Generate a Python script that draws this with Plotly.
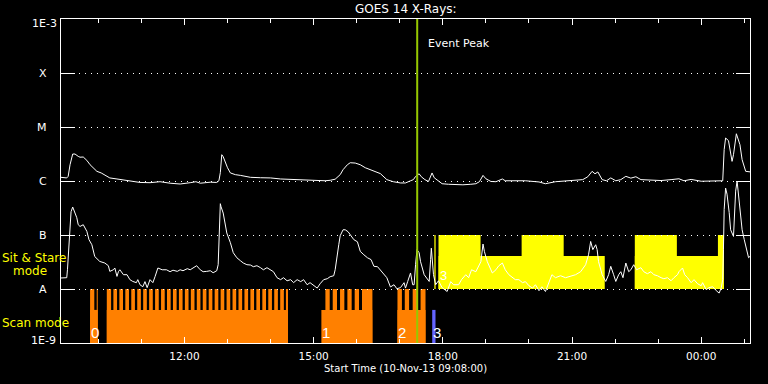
import pandas as pd
import numpy as np
import plotly.graph_objects as go

START = pd.Timestamp("2013-11-10 09:08:00")

# ---------------- data (minutes after start, flux W/m^2) ----------------
long_min = [0, 8, 10, 12.6, 16.3, 19.5, 24, 26.5, 31, 36, 40.5, 45, 50, 56, 64, 68, 78, 92, 100, 110,
            124, 138, 152, 166, 180, 188, 194, 201, 208, 217, 220, 222, 224, 226, 229, 232, 236, 243,
            250, 264, 278, 292, 306, 324, 340, 354, 368, 375, 382, 389, 393, 399, 403, 410, 417, 424,
            431, 438, 445, 454, 463, 473, 480, 487, 491, 494, 499, 502, 507, 512, 517, 520, 525, 531,
            540, 550, 560, 571, 578, 583, 588, 592, 599, 606, 615, 619, 633, 647, 666, 675, 689, 703,
            717, 727, 734, 740, 744, 748, 754, 760, 766, 773, 780, 787, 794, 801, 808, 822, 836, 850,
            861, 868, 878, 892, 906, 920, 922, 924, 926, 930, 932, 935, 937, 941, 946, 949, 954, 961]
long_flux = [1.17e-6, 1.14e-6, 1.22e-6, 2.0e-6, 3.16e-6, 3.16e-6, 2.86e-6, 2.76e-6, 2.78e-6, 2.41e-6,
             2.0e-6, 1.74e-6, 1.51e-6, 1.41e-6, 1.25e-6, 1.14e-6, 1.09e-6, 1.03e-6, 1.0e-6, 0.94e-6,
             0.93e-6, 0.97e-6, 0.91e-6, 0.88e-6, 0.93e-6, 0.97e-6, 0.91e-6, 0.93e-6, 0.95e-6, 0.94e-6,
             1.01e-6, 1.43e-6, 3.07e-6, 2.82e-6, 2.18e-6, 1.76e-6, 1.41e-6, 1.31e-6,
             1.27e-6, 1.17e-6, 1.15e-6, 1.14e-6, 1.09e-6, 1.06e-6, 1.03e-6, 1.0e-6, 1.01e-6, 1.03e-6,
             1.08e-6, 1.31e-6, 1.62e-6, 2.0e-6, 2.18e-6, 2.15e-6, 2.0e-6, 1.76e-6,
             1.62e-6, 1.49e-6, 1.37e-6, 1.06e-6, 0.97e-6, 0.92e-6, 0.92e-6, 1.01e-6, 1.06e-6, 1.21e-6,
             1.36e-6, 1.2e-6, 1.06e-6, 0.98e-6, 1.41e-6, 1.15e-6, 1.01e-6, 0.89e-6,
             0.87e-6, 0.85e-6, 0.85e-6, 0.87e-6, 0.89e-6, 0.97e-6, 1.27e-6, 1.1e-6, 0.98e-6, 0.97e-6,
             1.09e-6, 1.01e-6, 1.01e-6, 1.01e-6, 0.96e-6, 0.89e-6, 0.97e-6, 1.0e-6,
             1.01e-6, 1.06e-6, 1.2e-6, 1.51e-6, 1.36e-6, 1.47e-6, 1.06e-6, 1.01e-6, 1.14e-6, 1.01e-6,
             1.06e-6, 1.22e-6, 1.13e-6, 1.2e-6, 1.06e-6, 1.03e-6, 1.02e-6, 1.06e-6,
             1.1e-6, 1.01e-6, 1.07e-6, 0.99e-6, 1.0e-6, 0.98e-6, 1.01e-6, 3.8e-6, 6.25e-6, 5.6e-6,
             3.8e-6, 2.31e-6, 3.07e-6, 7.5e-6, 4.7e-6, 2.48e-6, 1.51e-6, 1.47e-6]

short_min = [0, 8, 9, 10, 12.6, 14, 16.3, 18, 22, 24, 26.5, 31, 36, 39, 43, 47, 54, 61, 66, 68, 73, 75,
             78, 80, 82, 87, 92, 96, 100, 105, 107, 110, 114, 117, 120, 124, 128, 131, 135, 141, 147,
             152, 156, 162, 166, 170, 176, 180, 184, 189, 194, 198, 203, 208, 212, 217, 219, 221, 222,
             223, 226, 231, 236, 240, 245, 250, 254, 259, 264, 268, 273, 278, 282, 287, 292, 296, 301,
             306, 310, 315, 320, 324, 329, 334, 338, 343, 347, 352, 357, 361, 366, 371, 375, 380, 382,
             387, 389, 393, 396, 400, 403, 408, 413, 417, 422, 427, 432, 436, 441, 445, 450, 454, 459,
             464, 468, 473, 478, 480, 483, 487, 490, 492, 494, 496, 499, 501, 506, 513, 515, 516, 519,
             522, 526, 531, 538, 543, 547, 554, 558, 564, 568, 572, 578, 582, 585, 588, 590, 594, 601,
             606, 610, 615, 619, 624, 629, 633, 638, 643, 647, 652, 657, 661, 666, 670, 675, 680, 684,
             689, 696, 703, 710, 717, 724, 728, 731, 735, 738, 741, 743, 745, 747, 749, 754, 759, 763,
             766, 770, 773, 777, 780, 783, 787, 791, 794, 798, 802, 808, 812, 817, 822, 826, 831, 836,
             840, 845, 850, 854, 859, 861, 866, 869, 873, 878, 882, 887, 892, 894, 899, 903, 908, 913,
             917, 920, 922, 923, 924, 926, 928, 931, 933, 937, 938, 940, 942, 944, 946, 949, 952, 957,
             958, 961]
short_flux = [1.6e-8, 1.62e-8, 2.27e-8, 4.0e-8, 1.69e-7, 2.7e-7, 3.3e-7, 2.9e-7, 2.09e-7, 1.55e-7,
              1.44e-7, 1.55e-7, 1.17e-7, 8.2e-8, 6.6e-8, 4.0e-8, 3.24e-8, 3.03e-8, 2.7e-8, 2.12e-8,
              2.27e-8, 2.45e-8, 1.71e-8, 2.09e-8, 2.27e-8, 1.84e-8, 1.84e-8, 1.49e-8, 1.38e-8, 1.31e-8,
              1.49e-8, 1.2e-8, 1.1e-8, 1.37e-8, 1.06e-8, 1.49e-8, 1.31e-8, 1.69e-8, 2.45e-8, 2.27e-8,
              2.27e-8, 2.09e-8, 2.23e-8, 2.12e-8, 2.27e-8, 2.18e-8, 2.38e-8, 2.27e-8, 2.48e-8, 2.7e-8,
              2.27e-8, 2.09e-8, 2.12e-8, 2.18e-8, 2.0e-8, 2.18e-8, 2.82e-8, 1.25e-7, 3.8e-7, 3.33e-7,
              2.55e-7, 1.09e-7, 7.2e-8, 4.7e-8, 3.79e-8, 3.34e-8, 3.03e-8, 2.82e-8, 2.78e-8, 2.59e-8,
              2.7e-8, 2.48e-8, 2.27e-8, 2.48e-8, 2.27e-8, 2.09e-8, 1.62e-8, 1.49e-8, 1.62e-8, 1.42e-8,
              1.49e-8, 1.31e-8, 1.49e-8, 1.37e-8, 1.49e-8, 1.2e-8, 1.31e-8, 1.15e-8, 1.04e-8, 1.25e-8,
              1.49e-8, 1.55e-8, 1.69e-8, 1.76e-8, 2.27e-8, 6.6e-8, 9.7e-8, 1.25e-7, 1.25e-7, 1.15e-7,
              9.9e-8, 8.2e-8, 7.5e-8, 4.97e-8, 4.3e-8, 3.79e-8, 3.5e-8, 2.63e-8, 2.59e-8, 2.27e-8,
              1.84e-8, 1.62e-8, 1.09e-8, 1.2e-8, 1.01e-8, 1.06e-8, 1.31e-8, 1.04e-8, 1.37e-8, 1.98e-8,
              1.2e-8, 1.2e-8, 2.82e-8, 5.35e-8, 4.7e-8, 3.2e-8, 1.84e-8, 1.38e-8, 3.5e-8, 5.7e-8,
              1.84e-8, 1.2e-8, 1.42e-8, 1.06e-8, 9.0e-9, 1.37e-8, 1.2e-8, 1.2e-8, 1.49e-8, 1.84e-8,
              1.62e-8, 2.27e-8, 2.09e-8, 2.59e-8, 3.2e-8, 6.8e-8, 4.9e-8, 3.2e-8, 1.98e-8, 2.27e-8,
              2.7e-8, 3.03e-8, 2.27e-8, 1.84e-8, 1.62e-8, 1.49e-8, 1.49e-8, 1.31e-8, 1.37e-8, 1.15e-8,
              1.04e-8, 1.2e-8, 9.3e-9, 1.1e-8, 9.0e-9, 1.31e-8, 1.84e-8, 1.62e-8, 1.76e-8, 1.62e-8,
              1.71e-8, 1.84e-8, 2.09e-8, 2.48e-8, 2.82e-8, 4.3e-8, 7.6e-8, 5.35e-8, 6.1e-8, 6.6e-8,
              5.35e-8, 3.2e-8, 1.84e-8, 1.38e-8, 1.84e-8, 2.63e-8, 1.84e-8, 1.38e-8, 1.84e-8, 2.09e-8,
              1.62e-8, 3.03e-8, 2.09e-8, 2.27e-8, 2.82e-8, 2.27e-8, 2.48e-8, 2.09e-8, 1.92e-8, 2.09e-8,
              1.84e-8, 1.76e-8, 1.62e-8, 1.55e-8, 1.62e-8, 1.42e-8, 1.62e-8, 1.84e-8, 2.09e-8, 2.45e-8,
              1.84e-8, 1.62e-8, 1.31e-8, 1.49e-8, 1.25e-8, 1.15e-8, 1.31e-8, 9.7e-9, 1.06e-8, 1.1e-8,
              9.3e-9, 8.4e-9, 1.06e-8, 1.49e-8, 5.35e-8, 2.95e-7, 7.4e-7, 5.7e-7, 2.6e-7, 1.25e-7,
              9.4e-8, 1.9e-7, 6.5e-7, 1.0e-6, 5.7e-7, 2.6e-7, 1.25e-7, 8.2e-8, 4.0e-8, 3.8e-8, 4.15e-8]

# scan-mode rasters: base blocks (minutes) and individual frames (minutes)
scan_blocks = [(40.5, 51.2), (63.8, 316.3), (362.8, 433.9), (468.8, 507.9)]
scan_frame_start = [40.5, 49.8, 63.8, 73.0, 81.3, 89.6, 97.9, 106.2, 114.5, 122.8, 131.1, 139.4, 147.7,
                    156.0, 164.3, 172.6, 180.9, 189.2, 197.5, 205.8, 214.1, 222.4, 230.7, 239.0,
                    247.3, 255.6, 263.9, 272.2, 280.5, 288.8, 297.1, 305.4, 313.4,
                    368.4, 378.6, 388.8, 399.0, 409.2, 419.4,
                    468.8, 479.0, 490.0, 501.0]
scan_frame_end = [46.4, 51.2, 69.8, 78.1, 86.4, 94.7, 103.0, 111.3, 119.6, 127.9, 136.2, 144.5, 152.8,
                  161.1, 169.4, 177.7, 186.0, 194.3, 202.6, 210.9, 219.2, 227.5, 235.8, 244.1,
                  252.4, 260.7, 269.0, 277.3, 285.6, 293.9, 302.2, 310.5, 316.3,
                  374.4, 384.6, 394.8, 405.0, 415.2, 433.9,
                  475.0, 485.0, 496.0, 507.9]
scan_labels = ["0", "1", "2", "3"]
scan_label_min = [40.5, 362.8, 468.8, 517.2]
mode3_block = (517.2, 521.8)

# sit & stare: continuous base periods (top 4.1e-8) and full-height frames (top 1e-7)
sit_base_start = [526.0, 799.5]
sit_base_end = [757.6, 923.7]
sit_full_start = [520.2, 526.0, 641.8, 799.5, 915.3]
sit_full_end = [522.0, 584.6, 700.4, 858.1, 923.7]

event_peak = "2013-11-10 17:24:18"

level_vals = [1e-3, 1e-4, 1e-5, 1e-6, 1e-7, 1e-8, 1e-9]
level_text = ["1E-3", "X", "M", "C", "B", "A", "1E-9"]

# ---------------- figure ----------------
def t(m):
    return START + pd.Timedelta(minutes=float(m))

FONT = "DejaVu Sans"
fig = go.Figure()

fig.add_trace(go.Scatter(x=[t(m) for m in long_min], y=long_flux, mode="lines",
                         line=dict(color="white", width=1), showlegend=False))
fig.add_trace(go.Scatter(x=[t(m) for m in short_min], y=short_flux, mode="lines",
                         line=dict(color="white", width=1), showlegend=False))

shapes = []
ORANGE = "#ff8000"
YELLOW = "#ffff00"


def rect(a, b, lo, hi, color):
    return dict(type="rect", xref="x", yref="y", x0=t(a), x1=t(b), y0=lo, y1=hi,
                fillcolor=color, line_width=0, layer="below")


for a, b in scan_blocks:
    shapes.append(rect(a, b, 1e-9, 4.1e-9, ORANGE))
for a, b in zip(scan_frame_start, scan_frame_end):
    shapes.append(rect(a, b, 1e-9, 1e-8, ORANGE))
shapes.append(rect(mode3_block[0], mode3_block[1], 1e-9, 4.1e-9, "#6464ff"))
for a, b in zip(sit_base_start, sit_base_end):
    shapes.append(rect(a, b, 1e-8, 4.1e-8, YELLOW))
for a, b in zip(sit_full_start, sit_full_end):
    shapes.append(rect(a, b, 1e-8, 1e-7, YELLOW))
shapes.append(dict(type="line", xref="x", yref="paper", x0=event_peak, x1=event_peak, y0=0, y1=1,
                   line=dict(color="#96c800", width=2), layer="above"))

ann = []
for v, txt in zip(level_vals, level_text):
    lg = np.log10(v)
    if txt.startswith("1E"):
        xs = -2 if txt == "1E-3" else -3
        ys = -4 if txt == "1E-3" else 3
    else:
        xs, ys = -12.5, 0
    ann.append(dict(x=0, xref="paper", y=lg, yref="y", text=txt, showarrow=False,
                    xanchor="right", yanchor="middle", xshift=xs, yshift=ys,
                    font=dict(family=FONT, size=11, color="white")))
for lab, m in zip(scan_labels, scan_label_min):
    ann.append(dict(x=t(m), xref="x", y=np.log10(1.55e-9), yref="y", text=lab, showarrow=False,
                    xanchor="left", yanchor="middle", xshift=-1,
                    font=dict(family="Liberation Sans", size=15, color="white")))
ann.append(dict(x=t(525), xref="x", y=np.log10(1.8e-8), yref="y", text="3", showarrow=False,
                xanchor="left", yanchor="middle", font=dict(family="Liberation Sans", size=13, color="white")))
ann.append(dict(x=event_peak, xref="x", y=1 - 24 / 324, yref="paper", text="Event Peak", showarrow=False,
                xanchor="left", yanchor="middle", xshift=9,
                font=dict(family=FONT, size=11, color="white")))
ann.append(dict(x=0.5, xref="paper", y=1, yref="paper", text="GOES 14 X-Rays:", showarrow=False,
                xanchor="center", yanchor="middle", yshift=10,
                font=dict(family=FONT, size=12, color="white")))
ann.append(dict(x=0.5, xref="paper", y=0, yref="paper", text="Start Time (10-Nov-13 09:08:00)",
                showarrow=False, xanchor="center", yanchor="middle", yshift=-25,
                font=dict(family=FONT, size=10, color="white")))
ann.append(dict(x=0, xref="paper", y=np.log10(3.7e-8), yref="y", text="Sit & Stare", showarrow=False,
                xanchor="left", yanchor="middle", xshift=-61,
                font=dict(family=FONT, size=12, color=YELLOW)))
ann.append(dict(x=0, xref="paper", y=np.log10(2.18e-8), yref="y", text="mode", showarrow=False,
                xanchor="left", yanchor="middle", xshift=-50,
                font=dict(family=FONT, size=12, color=YELLOW)))
ann.append(dict(x=0, xref="paper", y=np.log10(2.35e-9), yref="y", text="Scan mode", showarrow=False,
                xanchor="left", yanchor="middle", xshift=-61,
                font=dict(family=FONT, size=12, color=YELLOW)))

fig.update_layout(
    width=768, height=384, margin=dict(l=61, r=18, t=19, b=41),
    paper_bgcolor="black", plot_bgcolor="black",
    shapes=shapes, annotations=ann, showlegend=False,
    xaxis=dict(type="date", range=[START, START + pd.Timedelta(hours=16)],
               showline=True, linecolor="white", linewidth=1, mirror="allticks",
               ticks="inside", ticklen=6, tickcolor="white", tickwidth=1,
               dtick=3 * 3600000, tick0="2013-11-10 00:00", tickformat="%H:%M",
               tickfont=dict(family=FONT, size=10.5, color="white"), ticklabelstandoff=3,
               showgrid=False, zeroline=False,
               minor=dict(dtick=3600000, tick0="2013-11-10 00:00", ticks="inside", ticklen=4,
                          tickcolor="white", showgrid=False)),
    yaxis=dict(type="log", range=[-9, -3], showline=True, linecolor="white", linewidth=1,
               mirror="allticks", ticks="inside", ticklen=14, tickcolor="white",
               tickvals=[1e-8, 1e-7, 1e-6, 1e-5, 1e-4], showticklabels=False,
               showgrid=True, gridcolor="white", gridwidth=1, griddash="1px,5px", zeroline=False),
)

fig.write_html("out.html")
